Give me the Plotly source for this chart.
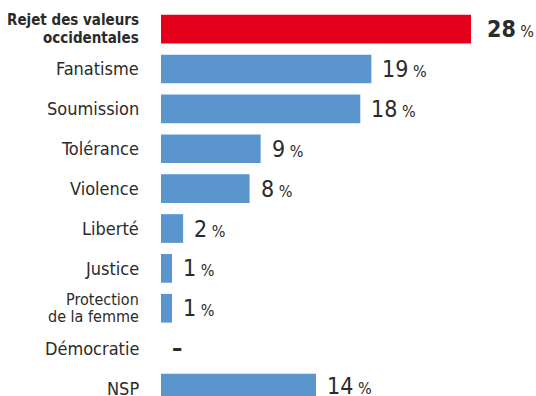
import plotly.graph_objects as go

# Survey answers, top to bottom
categories = [
    "Rejet des valeurs<br>occidentales",
    "Fanatisme",
    "Soumission",
    "Tolérance",
    "Violence",
    "Liberté",
    "Justice",
    "Protection<br>de la femme",
    "Démocratie",
    "NSP",
]
values = [28, 19, 18, 9, 8, 2, 1, 1, 0, 14]
value_labels = ["28", "19", "18", "9", "8", "2", "1", "1", "–", "14"]
highlight = [True, False, False, False, False, False, False, False, False, False]

RED = "#e2001a"
BLUE = "#5a96cd"
TEXT = "#2b2b2b"
FONT = "DejaVu Sans Condensed, DejaVu Sans, sans-serif"

idx = list(range(len(categories)))
colors = [RED if h else BLUE for h in highlight]

fig = go.Figure(
    go.Bar(
        x=values,
        y=idx,
        orientation="h",
        marker=dict(color=colors, line=dict(width=0)),
        width=0.72,
        hoverinfo="skip",
    )
)

annotations = []

# Category names, right-aligned against the bars; wrapped names get tight leading
for i, (name, strong) in enumerate(zip(categories, highlight)):
    lines = name.split("<br>")
    if len(lines) == 1:
        size, gap = 18, 0
    else:
        size = 15 if strong else 16
        gap = 18 if strong else 17
    n = len(lines)
    for k, line in enumerate(lines):
        shift = ((n - 1) / 2 - k) * gap
        annotations.append(
            dict(
                x=0,
                y=i,
                xref="paper",
                yref="y",
                text=f"<b>{line}</b>" if strong else line,
                showarrow=False,
                xanchor="right",
                yanchor="middle",
                xshift=-20,
                yshift=shift,
                font=dict(family=FONT, size=size, color=TEXT),
            )
        )

# Value labels at the end of each bar
for i, (v, lab, h) in enumerate(zip(values, value_labels, highlight)):
    if lab == "–":
        txt = "<b>–</b>"
    else:
        num = f"<b>{lab}</b>" if h else lab
        txt = f"{num}<span style='font-size:16px'> %</span>"
    annotations.append(
        dict(
            x=v,
            y=i,
            xref="x",
            yref="y",
            text=txt,
            showarrow=False,
            xanchor="left",
            yanchor="middle",
            xshift=14 if h else 9,
            yshift=2 if i == len(values) - 1 else 0,
            font=dict(family=FONT, size=23, color=TEXT),
        )
    )

fig.update_layout(
    width=536,
    height=396,
    margin=dict(l=161, r=0, t=0, b=0),
    paper_bgcolor="white",
    plot_bgcolor="white",
    showlegend=False,
    annotations=annotations,
    xaxis=dict(
        range=[0, 33.87],
        visible=False,
        fixedrange=True,
        automargin=False,
    ),
    yaxis=dict(
        range=[9.2, -0.73],
        showticklabels=False,
        showgrid=False,
        zeroline=False,
        showline=False,
        ticks="",
        automargin=False,
        fixedrange=True,
    ),
)

fig.write_html("out.html")
